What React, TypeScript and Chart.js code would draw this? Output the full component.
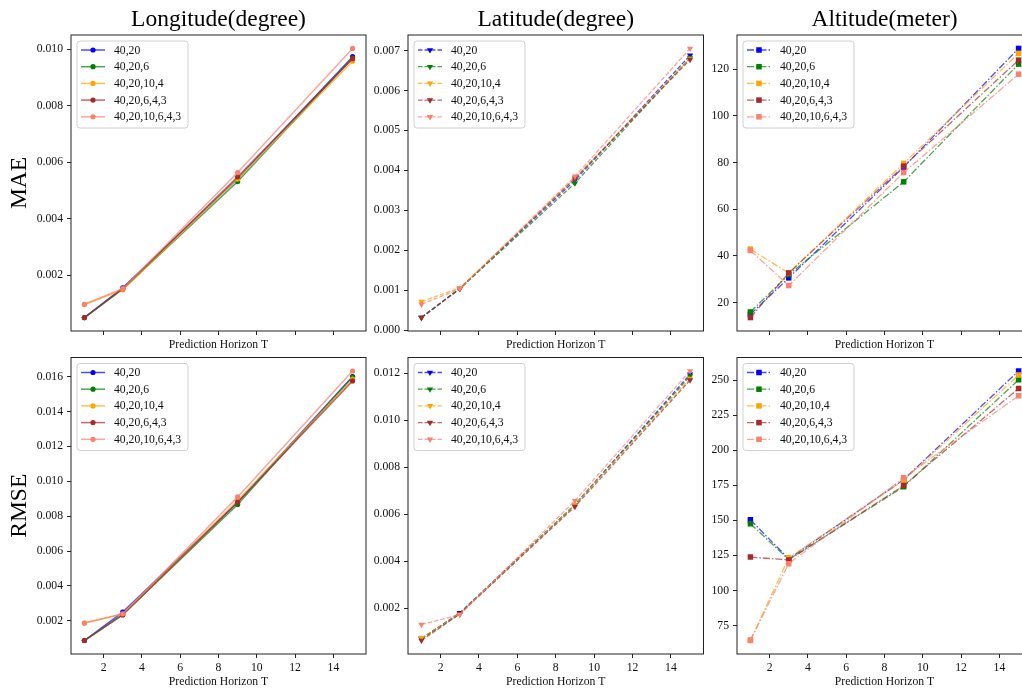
import React, { useEffect, useRef } from 'react';
import { Chart, registerables } from 'chart.js';

Chart.register(...registerables);

// ---------- data ----------
const horizons = [1, 3, 9, 15];
const seriesLabels = ['40,20', '40,20,6', '40,20,10,4', '40,20,6,4,3', '40,20,10,6,4,3'];
const seriesColors = ['#0000ff', '#008000', '#ffa500', '#a52a2a', '#fa8072'];
const xTickValues = [2, 4, 6, 8, 10, 12, 14];
const columnTitles = ['Longitude(degree)', 'Latitude(degree)', 'Altitude(meter)'];
const rowTitles = ['MAE', 'RMSE'];
const xAxisTitle = 'Prediction Horizon T';

const maeLongitude = [
  [0.0005, 0.00155, 0.00542, 0.00973],
  [0.0005, 0.0015, 0.00531, 0.00968],
  [0.00096, 0.00148, 0.0054, 0.00957],
  [0.0005, 0.00152, 0.00548, 0.00966],
  [0.00097, 0.00152, 0.00563, 0.01002],
];
const maeLatitude = [
  [0.00032, 0.00105, 0.00375, 0.00688],
  [0.00032, 0.00104, 0.00368, 0.00682],
  [0.00072, 0.00106, 0.0038, 0.0068],
  [0.00032, 0.00104, 0.0038, 0.00677],
  [0.00065, 0.00104, 0.00385, 0.00705],
];
const maeAltitude = [
  [15.0, 30.6, 78.0, 128.8],
  [16.0, 32.0, 71.7, 122.1],
  [42.9, 32.6, 79.6, 126.7],
  [13.6, 32.7, 78.4, 123.8],
  [42.3, 27.3, 75.7, 117.8],
];
const rmseLongitude = [
  [0.00087, 0.0025, 0.0088, 0.016],
  [0.00087, 0.00235, 0.00867, 0.01598],
  [0.00187, 0.00238, 0.0089, 0.01585],
  [0.00087, 0.00234, 0.0088, 0.01575],
  [0.00187, 0.0024, 0.0091, 0.01632],
];
const rmseLatitude = [
  [0.0007, 0.0018, 0.0064, 0.01195],
  [0.0007, 0.00176, 0.0064, 0.01187],
  [0.00073, 0.00175, 0.0064, 0.01177],
  [0.00062, 0.00175, 0.00632, 0.0117],
  [0.0013, 0.00172, 0.00657, 0.01209],
];
const rmseAltitude = [
  [150.4, 122.5, 179.0, 256.5],
  [147.6, 122.0, 174.0, 250.2],
  [64.3, 123.3, 178.5, 253.6],
  [123.8, 121.8, 174.8, 244.0],
  [64.6, 119.1, 180.3, 238.8],
];

const yTicksMaeLon = [0.002, 0.004, 0.006, 0.008, 0.01];
const yTicksMaeLat = [0, 0.001, 0.002, 0.003, 0.004, 0.005, 0.006, 0.007];
const yTicksMaeAlt = [20, 40, 60, 80, 100, 120];
const yTicksRmseLon = [0.002, 0.004, 0.006, 0.008, 0.01, 0.012, 0.014, 0.016];
const yTicksRmseLat = [0.002, 0.004, 0.006, 0.008, 0.01, 0.012];
const yTicksRmseAlt = [75, 100, 125, 150, 175, 200, 225, 250];

// ---------- layout / style ----------
const CW = 1040;
const CH = 692;
const colLeft = [71, 408, 737];
const colRight = [366, 703.5, 1032];
const rowTop = [35, 357.5];
const rowBottom = [331, 654];
const YW = 65;
const XH = 30;
const FONT = "'Liberation Serif', 'Times New Roman', serif";
const TICK_SIZE = 11.7;

type ColStyle = { dash: number[]; pointStyle: string; radius: number; rotation: number; width: number };
const colStyles: ColStyle[] = [
  { dash: [], pointStyle: 'circle', radius: 2.6, rotation: 0, width: 1.5 },
  { dash: [4.5, 2], pointStyle: 'triangle', radius: 3.6, rotation: 180, width: 1.3 },
  { dash: [7, 2, 1.5, 2], pointStyle: 'rect', radius: 3.9, rotation: 0, width: 1.3 },
];

const panels = [
  { row: 0, col: 0, data: maeLongitude, yTicks: yTicksMaeLon, dec: 3 },
  { row: 0, col: 1, data: maeLatitude, yTicks: yTicksMaeLat, dec: 3 },
  { row: 0, col: 2, data: maeAltitude, yTicks: yTicksMaeAlt, dec: 0 },
  { row: 1, col: 0, data: rmseLongitude, yTicks: yTicksRmseLon, dec: 3 },
  { row: 1, col: 1, data: rmseLatitude, yTicks: yTicksRmseLat, dec: 3 },
  { row: 1, col: 2, data: rmseAltitude, yTicks: yTicksRmseAlt, dec: 0 },
];

function hexA(hex: string, a: number) {
  const r = parseInt(hex.slice(1, 3), 16);
  const g = parseInt(hex.slice(3, 5), 16);
  const b = parseInt(hex.slice(5, 7), 16);
  return `rgba(${r},${g},${b},${a})`;
}

function drawMarker(ctx: CanvasRenderingContext2D, style: ColStyle, x: number, y: number, color: string) {
  ctx.save();
  ctx.fillStyle = color;
  ctx.beginPath();
  if (style.pointStyle === 'circle') {
    ctx.arc(x, y, style.radius, 0, Math.PI * 2);
  } else if (style.pointStyle === 'triangle') {
    const r = style.radius;
    let rad = Math.PI;
    ctx.moveTo(x + Math.sin(rad) * r, y - Math.cos(rad) * r);
    rad += (2 * Math.PI) / 3;
    ctx.lineTo(x + Math.sin(rad) * r, y - Math.cos(rad) * r);
    rad += (2 * Math.PI) / 3;
    ctx.lineTo(x + Math.sin(rad) * r, y - Math.cos(rad) * r);
    ctx.closePath();
  } else {
    const s = style.radius * Math.SQRT1_2;
    ctx.rect(x - s, y - s, 2 * s, 2 * s);
  }
  ctx.fill();
  ctx.restore();
}

function Panel({ p }: { p: (typeof panels)[number] }) {
  const ref = useRef<HTMLCanvasElement>(null);
  useEffect(() => {
    const canvas = ref.current;
    if (!canvas) return;
    const style = colStyles[p.col];
    const all = p.data.flat();
    const dmin = Math.min(...all);
    const dmax = Math.max(...all);
    const margin = (dmax - dmin) * 0.05;

    const decor = {
      id: 'decor' + p.row + p.col,
      afterDraw(chart: any) {
        const ctx: CanvasRenderingContext2D = chart.ctx;
        const a = chart.chartArea;
        ctx.save();
        // frame
        ctx.strokeStyle = '#222';
        ctx.lineWidth = 1;
        ctx.strokeRect(a.left, a.top, a.right - a.left, a.bottom - a.top);
        // legend
        const x0 = a.left + 6;
        const y0 = a.top + 6;
        const w = 111;
        const h = 87;
        const rr = 3;
        ctx.beginPath();
        ctx.moveTo(x0 + rr, y0);
        ctx.lineTo(x0 + w - rr, y0);
        ctx.arcTo(x0 + w, y0, x0 + w, y0 + rr, rr);
        ctx.lineTo(x0 + w, y0 + h - rr);
        ctx.arcTo(x0 + w, y0 + h, x0 + w - rr, y0 + h, rr);
        ctx.lineTo(x0 + rr, y0 + h);
        ctx.arcTo(x0, y0 + h, x0, y0 + h - rr, rr);
        ctx.lineTo(x0, y0 + rr);
        ctx.arcTo(x0, y0, x0 + rr, y0, rr);
        ctx.closePath();
        ctx.fillStyle = 'rgba(255,255,255,0.8)';
        ctx.fill();
        ctx.strokeStyle = '#d0d0d0';
        ctx.stroke();
        seriesLabels.forEach((lab, i) => {
          const cy = y0 + 9 + i * 16.7;
          ctx.save();
          ctx.strokeStyle = hexA(seriesColors[i], 0.7);
          ctx.lineWidth = style.width;
          ctx.setLineDash(style.dash);
          ctx.beginPath();
          ctx.moveTo(x0 + 4, cy);
          ctx.lineTo(x0 + 28, cy);
          ctx.stroke();
          ctx.restore();
          drawMarker(ctx, style, x0 + 16, cy, seriesColors[i]);
          ctx.fillStyle = '#111';
          ctx.font = `${TICK_SIZE}px ${FONT}`;
          ctx.textAlign = 'left';
          ctx.textBaseline = 'middle';
          ctx.fillText(lab, x0 + 37, cy + 0.5);
        });
        // texts
        const cx = (a.left + a.right) / 2;
        ctx.fillStyle = '#111';
        ctx.textAlign = 'center';
        ctx.textBaseline = 'middle';
        ctx.font = `${TICK_SIZE}px ${FONT}`;
        ctx.fillText(xAxisTitle, cx, a.bottom + (p.row === 0 ? 14 : 27.5));
        if (p.row === 0) {
          ctx.fillStyle = '#000';
          ctx.font = `23.5px ${FONT}`;
          ctx.fillText(columnTitles[p.col], cx, 20);
        }
        if (p.col === 0) {
          ctx.save();
          ctx.fillStyle = '#000';
          ctx.font = `23.5px ${FONT}`;
          ctx.translate(20, (a.top + a.bottom) / 2);
          ctx.rotate(-Math.PI / 2);
          ctx.fillText(rowTitles[p.row], 0, 0);
          ctx.restore();
        }
        ctx.restore();
      },
    };

    const tickFont = { family: FONT, size: TICK_SIZE };
    const chart = new Chart(canvas, {
      type: 'line',
      data: {
        datasets: p.data.map((vals, i) => ({
          label: seriesLabels[i],
          data: horizons.map((h, j) => ({ x: h, y: vals[j] })),
          borderColor: hexA(seriesColors[i], 0.7),
          backgroundColor: seriesColors[i],
          borderWidth: style.width,
          borderDash: style.dash,
          pointStyle: style.pointStyle as any,
          pointRadius: style.radius,
          pointRotation: style.rotation,
          pointBackgroundColor: seriesColors[i],
          pointBorderColor: seriesColors[i],
          pointBorderWidth: 0,
          tension: 0,
          fill: false,
          order: seriesLabels.length - i,
        })),
      },
      options: {
        responsive: false,
        maintainAspectRatio: false,
        devicePixelRatio: 1,
        animation: false,
        events: [],
        layout: {
          padding: {
            left: colLeft[p.col] - YW,
            right: CW - colRight[p.col],
            top: rowTop[p.row],
            bottom: CH - rowBottom[p.row] - XH,
          },
        },
        plugins: { legend: { display: false }, tooltip: { enabled: false }, title: { display: false } },
        scales: {
          x: {
            type: 'linear',
            min: 0.3,
            max: 15.7,
            afterBuildTicks: (s: any) => {
              s.ticks = xTickValues.map((v) => ({ value: v }));
            },
            afterFit: (s: any) => {
              s.height = XH;
            },
            grid: { drawOnChartArea: false, drawTicks: true, tickLength: 4, color: '#222', lineWidth: 1 },
            border: { display: false },
            ticks: {
              autoSkip: false,
              maxRotation: 0,
              padding: 3,
              font: tickFont,
              color: '#111',
              callback: (v: any) => (p.row === 0 ? '' : String(v)),
            },
          },
          y: {
            type: 'linear',
            min: dmin - margin,
            max: dmax + margin,
            afterBuildTicks: (s: any) => {
              s.ticks = p.yTicks.map((v) => ({ value: v }));
            },
            afterFit: (s: any) => {
              s.width = YW;
            },
            grid: { drawOnChartArea: false, drawTicks: true, tickLength: 4, color: '#222', lineWidth: 1 },
            border: { display: false },
            ticks: {
              autoSkip: false,
              padding: 4,
              font: tickFont,
              color: '#111',
              callback: (v: any) => Number(v).toFixed(p.dec),
            },
          },
        },
      } as any,
      plugins: [decor],
    });
    return () => chart.destroy();
  }, []);
  return (
    <canvas
      ref={ref}
      width={CW}
      height={CH}
      style={{ position: 'absolute', left: 0, top: 0, width: CW, height: CH }}
    />
  );
}

export default function App() {
  return (
    <div
      style={{
        position: 'fixed',
        left: 0,
        top: 0,
        width: 1022,
        height: 692,
        overflow: 'hidden',
        background: '#fff',
      }}
    >
      {panels.map((p) => (
        <Panel key={`${p.row}-${p.col}`} p={p} />
      ))}
    </div>
  );
}
